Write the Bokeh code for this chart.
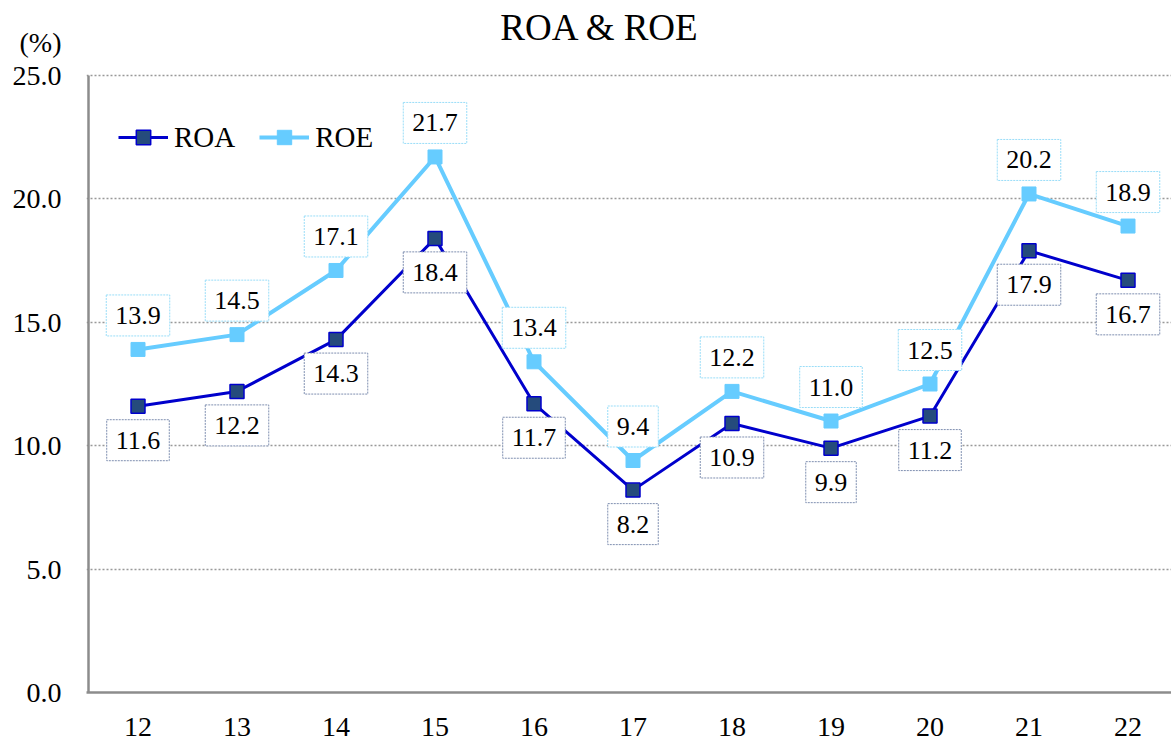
from bokeh.plotting import figure
from bokeh.models import (Range1d, FixedTicker, CustomJSTickFormatter, Label, Legend,
                          LegendItem)
from bokeh.embed import file_html
from bokeh.resources import INLINE

years = [12, 13, 14, 15, 16, 17, 18, 19, 20, 21, 22]
roa = [11.6, 12.2, 14.3, 18.4, 11.7, 8.2, 10.9, 9.9, 11.2, 17.9, 16.7]
roe = [13.9, 14.5, 17.1, 21.7, 13.4, 9.4, 12.2, 11.0, 12.5, 20.2, 18.9]
y_ticks = [0, 5, 10, 15, 20, 25]
title_text = "ROA & ROE"
unit_text = "(%)"

FONT = "Liberation Serif"
ROA_LINE = "#0000CC"
ROA_FILL = "#254B7C"
ROE_COLOR = "#66CCFF"
AXIS_COLOR = "#8c8c8c"

# layout geometry (pixels)
W, H = 1171, 744
LEFT, BOTTOM = 86, 52          # frame left edge / space below the frame
AXIS_PX = 88                   # pixel column of the drawn y axis line
PX_X = 99.0                    # pixels per category
Y_AXIS_TOP_PX = 75             # pixel row of the 25.0 gridline
frame_h = H - BOTTOM
px_y = (frame_h - Y_AXIS_TOP_PX) / 25.0
x_axis = years[0] - 0.5
x0 = x_axis - (AXIS_PX - LEFT) / PX_X
x1 = x0 + (W - LEFT) / PX_X
y1 = 25 + Y_AXIS_TOP_PX / px_y
unit_y = round((frame_h - 42) / px_y, 3)
title_x = x_axis + (599.5 - AXIS_PX) / PX_X
title_y = (frame_h - 27) / px_y

p = figure(width=W, height=H, output_backend="svg", toolbar_location=None,
           title_location=None,
           x_range=Range1d(x0, x1), y_range=Range1d(0, y1),
           min_border_left=LEFT, min_border_right=0, min_border_top=0,
           min_border_bottom=BOTTOM)
p.outline_line_color = None
p.background_fill_color = "white"

# axes
for ax in (p.xaxis[0], p.yaxis[0]):
    ax.axis_line_color = AXIS_COLOR
    ax.axis_line_width = 2.5
    ax.major_tick_line_color = None
    ax.minor_tick_line_color = None
    ax.major_label_text_font = FONT
    ax.major_label_text_font_size = "28px"
    ax.major_label_text_color = "black"
p.xaxis.ticker = FixedTicker(ticks=years)
p.xaxis.major_label_standoff = 19

p.yaxis.axis_line_color = None
p.yaxis.ticker = FixedTicker(ticks=y_ticks + [unit_y])
p.yaxis.formatter = CustomJSTickFormatter(
    args=dict(unit=unit_text, top=y_ticks[-1]),
    code="return tick > top ? unit : tick.toFixed(1);")
p.yaxis.major_label_standoff = 19

# visible y axis line from 0 to 25
p.segment(x0=[x_axis], y0=[y_ticks[0]], x1=[x_axis], y1=[y_ticks[-1]],
          line_color=AXIS_COLOR, line_width=2.5)

p.xgrid.grid_line_color = None
p.ygrid.ticker = FixedTicker(ticks=y_ticks)
p.ygrid.grid_line_color = "#999999"
p.ygrid.grid_line_dash = "2 2"
p.ygrid.grid_line_width = 1.3

# title
p.add_layout(Label(x=title_x, y=title_y, text=title_text, text_align="center",
                   text_baseline="middle", text_font=FONT, text_font_size="37px",
                   text_color="black"))

# series
l_roa = p.line(years, roa, line_color=ROA_LINE, line_width=3)
s_roa = p.scatter(years, roa, marker="square", size=14, fill_color=ROA_FILL,
                  line_color=ROA_LINE, line_width=1.5)
l_roe = p.line(years, roe, line_color=ROE_COLOR, line_width=4)
s_roe = p.scatter(years, roe, marker="square", size=14, fill_color=ROE_COLOR,
                  line_color=ROE_COLOR, line_width=1)

# data labels
for x, v in zip(years, roe):
    p.add_layout(Label(x=x, y=v, y_offset=34, text=f"{v:.1f}", text_align="center",
                       text_baseline="middle", text_font=FONT, text_font_size="26px",
                       text_color="black", background_fill_color="white",
                       border_line_color="#99DDF8", border_line_dash="2 1",
                       border_line_width=1, padding=(9, 9, 12, 12)))
for x, v in zip(years, roa):
    p.add_layout(Label(x=x, y=v, y_offset=-34, text=f"{v:.1f}", text_align="center",
                       text_baseline="middle", text_font=FONT, text_font_size="26px",
                       text_color="black", background_fill_color="white",
                       border_line_color="#7F8FB0", border_line_dash="2 1",
                       border_line_width=1, padding=(9, 9, 12, 12)))

legend = Legend(items=[LegendItem(label="ROA", renderers=[l_roa, s_roa]),
                       LegendItem(label="ROE", renderers=[l_roe, s_roe])],
                location=(32, 537), orientation="horizontal",
                glyph_width=50, glyph_height=36, label_standoff=6, spacing=24,
                padding=0, margin=0, border_line_color=None,
                background_fill_alpha=0, label_text_font=FONT,
                label_text_font_size="29px", label_text_color="black")
p.add_layout(legend)

open("out.html", "w").write(file_html(p, INLINE))
